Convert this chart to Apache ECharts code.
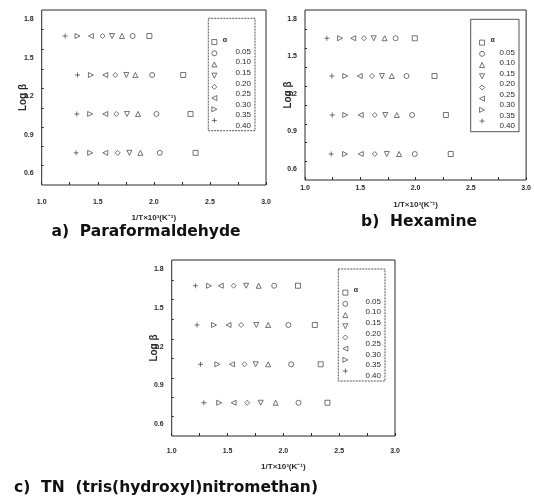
<!DOCTYPE html>
<html><head><meta charset="utf-8">
<script src="https://cdn.jsdelivr.net/npm/echarts@6/dist/echarts.min.js"></script>
<style>html,body{margin:0;padding:0;background:#fff}#c{width:534px;height:500px}</style>
</head><body><div id="c"></div><script>
// conversion levels (α)
const alphas = ['0.05','0.10','0.15','0.20','0.25','0.30','0.35','0.40'];
const xTickLabels = [1.0, 1.5, 2.0, 2.5, 3.0];
const xTickMarks = [1.0,1.25,1.5,1.75,2.0,2.25,2.5,2.75,3.0];
const yTickLabels = [0.6, 0.9, 1.2, 1.5, 1.8];
const yTickMarks = [0.66,0.81,0.96,1.11,1.26,1.41,1.565,1.717];

// a) Paraformaldehyde: log β rows (bottom→top), 1/T×10³ per α (0.05→0.40)
const logBetaA = [0.76, 1.062, 1.365, 1.668];
const invTA = [
  [2.372, 2.053, 1.88, 1.782, 1.677, 1.567, 1.432, 1.307],
  [2.327, 2.023, 1.859, 1.761, 1.665, 1.567, 1.432, 1.313],
  [2.262, 1.985, 1.835, 1.755, 1.656, 1.567, 1.439, 1.319],
  [1.96, 1.811, 1.716, 1.627, 1.543, 1.439, 1.319, 1.209]
];
// b) Hexamine
const logBetaB = [0.718, 1.03, 1.342, 1.644];
const invTB = [
  [2.318, 1.993, 1.851, 1.74, 1.631, 1.504, 1.362, 1.237],
  [2.274, 1.969, 1.83, 1.726, 1.631, 1.504, 1.364, 1.246],
  [2.171, 1.918, 1.785, 1.696, 1.607, 1.495, 1.364, 1.243],
  [1.993, 1.82, 1.72, 1.622, 1.533, 1.436, 1.317, 1.198]
];
// c) TN
const logBetaC = [0.767, 1.064, 1.368, 1.671];
const invTC = [
  [2.395, 2.136, 1.931, 1.797, 1.676, 1.555, 1.425, 1.288],
  [2.334, 2.07, 1.864, 1.752, 1.652, 1.54, 1.409, 1.258],
  [2.282, 2.045, 1.864, 1.758, 1.622, 1.509, 1.379, 1.227],
  [2.131, 1.918, 1.779, 1.667, 1.555, 1.44, 1.334, 1.213]
];
const captions = ['a)  Paraformaldehyde', 'b)  Hexamine', 'c)  TN  (tris(hydroxyl)nitromethan)'];
const xName = '1/T×10³(K⁻¹)';
const yName = 'Log β';

const symbols = ['rect','circle','triangle','path://M0,0L10,0L5,10Z','diamond',
  'path://M10,0L10,10L0,5Z','path://M0,0L0,10L10,5Z','path://M5,0L5,10M0,5L10,5'];

const panels = [
  {beta: logBetaA, x: invTA, grid: {left: 41.7, top: 10, width: 224.3, height: 175},
   lblMargin: 14, nameGap: 29, yGap: 13.5,
   leg: {box: [208.3, 18.3, 46.7, 112.4], symX: 214, symY: 41.7, lblX: 251, lblY: 51.7}, cap: [146, 232], dashed: true},
  {beta: logBetaB, x: invTB, grid: {left: 305, top: 10, width: 226, height: 170},
   lblMargin: 5, nameGap: 21, yGap: 12,
   leg: {box: [470.7, 19.3, 48.3, 112.4], symX: 481.7, symY: 42.3, lblX: 515, lblY: 52.3}, cap: [419, 222], dashed: false},
  {beta: logBetaC, x: invTC, grid: {left: 171.7, top: 260, width: 223.3, height: 176},
   lblMargin: 12, nameGap: 27, yGap: 12.5,
   leg: {box: [338.3, 269, 46.7, 112], symX: 345, symY: 292.3, lblX: 381, lblY: 301.7}, cap: [166, 488], dashed: true}
];

const ink = '#2a2a2a';
const grids = [], xAxes = [], yAxes = [], series = [], legends = [], graphics = [];
panels.forEach((p, pi) => {
  grids.push(Object.assign({show: true, borderColor: ink, borderWidth: 1, backgroundColor: 'transparent'}, p.grid));
  xAxes.push({gridIndex: pi, type: 'value', min: 1, max: 3,
    axisLine: {show: false}, splitLine: {show: false},
    axisTick: {inside: true, length: 3, customValues: xTickMarks, lineStyle: {color: ink}},
    axisLabel: {customValues: xTickLabels, formatter: v => v.toFixed(1), fontSize: 7, fontWeight: 'bold',
      fontFamily: 'Liberation Sans', color: ink, margin: p.lblMargin},
    name: xName, nameLocation: 'middle', nameGap: p.nameGap, nameMoveOverlap: false,
    nameTextStyle: {fontSize: 8, fontWeight: 'bold', fontFamily: 'Liberation Sans', color: ink}});
  yAxes.push({gridIndex: pi, type: 'value', min: 0.51, max: 1.87,
    axisLine: {show: false}, splitLine: {show: false},
    axisTick: {inside: true, length: 2, customValues: yTickMarks, lineStyle: {color: ink}},
    axisLabel: {customValues: yTickLabels, formatter: v => v.toFixed(1), fontSize: 7, fontWeight: 'bold',
      fontFamily: 'Liberation Sans', color: ink, margin: 8},
    name: yName, nameLocation: 'middle', nameGap: p.yGap, nameMoveOverlap: false,
    nameTextStyle: {fontSize: 10, fontWeight: 'bold', fontFamily: 'Liberation Sans', color: ink}});
  alphas.forEach((a, j) => {
    series.push({type: 'scatter', name: a, xAxisIndex: pi, yAxisIndex: pi,
      symbol: symbols[j], symbolSize: 5,
      itemStyle: {color: j === 7 ? 'rgba(0,0,0,0)' : '#fff', borderColor: '#3a3a3a', borderWidth: 0.7, opacity: 1},
      emphasis: {disabled: true},
      data: p.beta.map((b, i) => [p.x[i][j], b])});
  });
  const L = p.leg;
  legends.push({orient: 'vertical', left: L.symX - 2.5, top: L.symY - 2.5, itemWidth: 5, itemHeight: 5,
    itemGap: 5.5, padding: 0, selectedMode: false, formatter: () => '',
    itemStyle: {color: '#fff', borderColor: '#3a3a3a', borderWidth: 0.7},
    textStyle: {fontSize: 1}, data: alphas});
  graphics.push({type: 'rect', shape: {x: L.box[0], y: L.box[1], width: L.box[2], height: L.box[3]},
    style: {fill: 'none', stroke: ink, lineWidth: 0.8, lineDash: p.dashed ? [2, 1] : null}});
  graphics.push({type: 'text', x: L.symX + 11, y: L.symY - 2,
    style: {text: 'α', font: 'bold 7px "Liberation Sans"', fill: ink, align: 'center', verticalAlign: 'middle'}});
  alphas.forEach((a, j) => {
    graphics.push({type: 'text', x: L.lblX, y: L.lblY + 10.57 * j,
      style: {text: a, font: '8px "Liberation Sans"', fill: ink, align: 'right', verticalAlign: 'middle'}});
  });
  graphics.push({type: 'text', x: p.cap[0], y: p.cap[1],
    style: {text: captions[pi], font: 'bold 15.5px "DejaVu Sans"', fill: '#111', align: 'center', verticalAlign: 'middle'}});
});

const chart = echarts.init(document.getElementById('c'), null, {renderer: 'canvas'});
chart.setOption({animation: false, backgroundColor: '#fff', grid: grids, xAxis: xAxes, yAxis: yAxes,
  series: series, legend: legends, graphic: graphics});
</script></body></html>
